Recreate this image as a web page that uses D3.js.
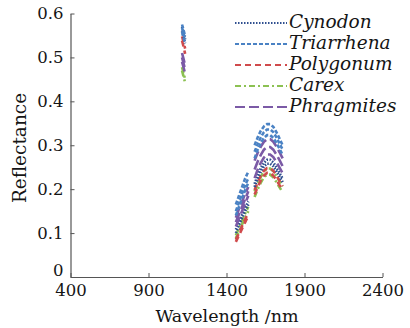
<!DOCTYPE html>
<html><head><meta charset="utf-8">
<script src="https://cdn.jsdelivr.net/npm/d3@7"></script>
<style>body{margin:0;background:#fff}svg{display:block}</style>
</head><body><svg id="c" width="410" height="328"></svg>
<script>
// wavelengths (nm); null entries in value rows mark gaps between bands
const wavelengths = [1115,1125,1135, 1300, 1460,1480,1500,1520,1540, 1560, 1580,1600,1620,1640,1660,1680,1700,1720,1740,1760];
const speciesNames = ["Cynodon","Triarrhena","Polygonum","Carex","Phragmites"];
const xTicks = [400,900,1400,1900,2400];
const yTicks = [0,0.1,0.2,0.3,0.4,0.5,0.6];

const cynodon = [
  [0.570,0.556,0.542, null, 0.108,0.125,0.142,0.158,0.172, null, 0.212,0.232,0.248,0.260,0.267,0.267,0.261,0.250,0.237,0.224],
  [0.560,0.546,0.532, null, 0.100,0.118,0.135,0.150,0.165, null, 0.205,0.224,0.240,0.252,0.258,0.258,0.252,0.241,0.229,0.216]
];
const triarrhena = [
  [0.575,0.562,0.548, null, 0.165,0.185,0.205,0.225,0.240, null, 0.300,0.318,0.333,0.343,0.348,0.348,0.342,0.330,0.315,0.300],
  [0.567,0.554,0.540, null, 0.150,0.170,0.190,0.210,0.225, null, 0.285,0.303,0.318,0.330,0.336,0.336,0.330,0.318,0.304,0.290],
  [0.558,0.545,0.532, null, 0.140,0.160,0.180,0.198,0.215, null, 0.270,0.290,0.305,0.317,0.323,0.323,0.317,0.305,0.292,0.278]
];
const polygonum = [
  [0.548,0.534,0.520, null, 0.085,0.100,0.116,0.132,0.146, null, 0.198,0.216,0.231,0.242,0.248,0.248,0.242,0.231,0.219,0.207],
  [0.538,0.524,0.508, null, 0.080,0.095,0.110,0.125,0.140, null, 0.188,0.205,0.220,0.231,0.237,0.237,0.231,0.221,0.209,0.198]
];
const carex = [
  [0.478,0.464,0.450, null, 0.095,0.112,0.128,0.145,0.160, null, 0.195,0.213,0.228,0.240,0.247,0.247,0.241,0.230,0.218,0.206],
  [0.470,0.456,0.442, null, 0.088,0.104,0.120,0.136,0.150, null, 0.182,0.200,0.215,0.227,0.233,0.233,0.227,0.216,0.204,0.193]
];
const phragmites = [
  [0.510,0.496,0.482, null, 0.135,0.155,0.172,0.190,0.205, null, 0.265,0.283,0.297,0.308,0.314,0.314,0.308,0.297,0.284,0.270],
  [0.500,0.486,0.472, null, 0.125,0.143,0.160,0.178,0.195, null, 0.245,0.263,0.278,0.290,0.296,0.296,0.290,0.279,0.266,0.252],
  [0.490,0.477,0.463, null, 0.115,0.133,0.150,0.168,0.185, null, 0.225,0.245,0.260,0.272,0.279,0.279,0.273,0.262,0.249,0.236]
];

const colors = ["#2f4f8f","#4a82c4","#d04a4c","#8cc152","#7b5aa6"];
const dashes = ["1.5,1.5","4,2","6,4","6,3,2,3","10,4"];
const seriesData = [cynodon, triarrhena, polygonum, carex, phragmites];

const svg = d3.select("#c");
const x = d3.scaleLinear().domain([400,2400]).range([70.5,382.5]);
const y = d3.scaleLinear().domain([0,0.6]).range([277,13.5]);
const font = "DejaVu Serif";
const axisCol = "#555";
const textCol = "#151515";

// axes
const xAxis = svg.append("g").attr("transform","translate(0,277)")
  .call(d3.axisBottom(x).tickValues(xTicks).tickSize(-4).tickSizeOuter(0).tickPadding(9).tickFormat(d3.format("d")));
const yAxis = svg.append("g").attr("transform","translate(70.5,0)")
  .call(d3.axisLeft(y).tickValues(yTicks).tickSize(-4).tickSizeOuter(0).tickPadding(7).tickFormat(d=>d===0?"0":d3.format(".1f")(d)));
[xAxis,yAxis].forEach(g=>{
  g.select(".domain").attr("stroke",axisCol).attr("stroke-width",1.2);
  g.selectAll(".tick line").attr("stroke",axisCol).attr("stroke-width",1);
  g.selectAll("text").attr("font-family",font).attr("font-size",16.5).attr("fill",textCol);
});
xAxis.selectAll("text").attr("dy","0.62em");
yAxis.selectAll(".tick").filter(d=>d===0).select("text").attr("dy","-0.12em");

svg.append("text").attr("x",227).attr("y",322).attr("text-anchor","middle")
  .attr("font-family",font).attr("font-size",17.5).attr("fill",textCol).text("Wavelength /nm");
svg.append("text").attr("transform","translate(26,148) rotate(-90)").attr("text-anchor","middle")
  .attr("font-family",font).attr("font-size",18.5).attr("fill",textCol).text("Reflectance");

// lines
const line = d3.line().defined(d=>d[1]!==null).x(d=>x(d[0])).y(d=>y(d[1]));
const order = [3,2,0,4,1];
order.forEach(i=>{
  seriesData[i].forEach(row=>{
    svg.append("path").datum(row.map((v,k)=>[wavelengths[k],v]))
      .attr("d",line).attr("fill","none").attr("stroke",colors[i])
      .attr("stroke-width",2.6).attr("stroke-dasharray",dashes[i]);
  });
});

// legend
const lg = svg.append("g");
speciesNames.forEach((n,i)=>{
  const by = 28 + i*21;
  lg.append("line").attr("x1",235).attr("x2",287).attr("y1",by-5).attr("y2",by-5)
    .attr("stroke",colors[i]).attr("stroke-width",1.8).attr("stroke-dasharray",dashes[i]);
  lg.append("text").attr("x",289).attr("y",by).attr("font-family",font).attr("font-style","italic")
    .attr("font-size",18.5).attr("fill",textCol).text(n);
});
</script></body></html>
